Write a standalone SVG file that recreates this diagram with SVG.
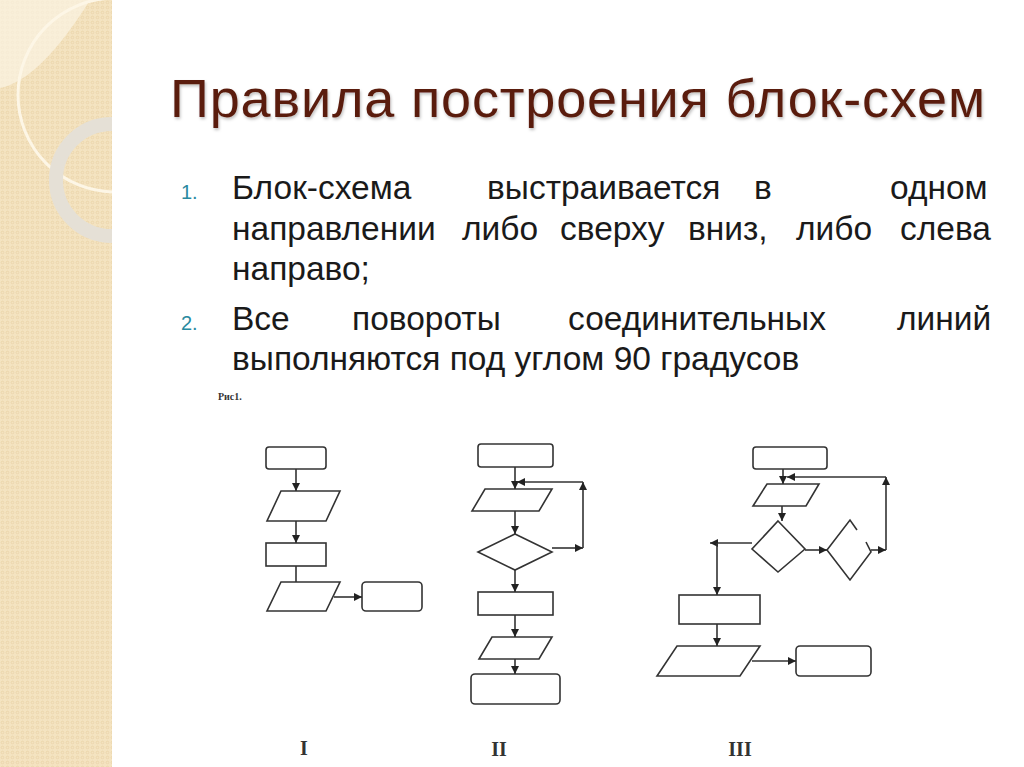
<svg xmlns="http://www.w3.org/2000/svg" width="1024" height="767" viewBox="0 0 1024 767">
<defs>
<marker id="ar" viewBox="0 0 10 10" refX="10" refY="5" markerWidth="8" markerHeight="8" markerUnits="userSpaceOnUse" orient="auto"><path d="M0,0 L10,5 L0,10 z" fill="#222"/></marker>
<pattern id="dots" width="5" height="5" patternUnits="userSpaceOnUse"><circle cx="2.5" cy="2.5" r="1.3" fill="none" stroke="#e6cfa0" stroke-width="0.6"/></pattern>
<filter id="sh"><feDropShadow dx="1" dy="2" stdDeviation="1.5" flood-color="#000" flood-opacity="0.25"/></filter>
<clipPath id="cl"><rect x="0" y="0" width="112" height="767"/></clipPath>
</defs>
<style>
.s{fill:#fff;stroke:#333;stroke-width:1.6}
.c{fill:none;stroke:#333;stroke-width:1.6}
.a{fill:none;stroke:#333;stroke-width:1.6;marker-end:url(#ar)}
.t{font-family:"Liberation Sans",Arial,sans-serif;font-size:33.5px;fill:#1a1a1a}
.n{font-family:"Liberation Sans",Arial,sans-serif;font-size:20px;fill:#2a8aa0}
.r{font-family:"Liberation Serif","Times New Roman",serif;font-weight:bold;fill:#333}
</style>
<rect width="1024" height="767" fill="#fff"/>
<g id="decor">
<rect x="0" y="0" width="112" height="767" fill="#f4e3c0"/>
<rect x="0" y="0" width="112" height="767" fill="url(#dots)"/>
<g clip-path="url(#cl)">
<path d="M0,88 Q40,80 90,0 L0,0 z" fill="#fbf3e4" opacity="0.7"/>
<circle cx="115" cy="95" r="97" fill="none" stroke="#fdf6e6" stroke-width="3"/>
<circle cx="112" cy="180" r="56" fill="none" stroke="#e5e0d6" stroke-width="14"/>
</g>
</g>
<g id="title"><text x="170" y="117" font-family="Liberation Sans,Arial,sans-serif" font-size="54" fill="#5a1e10" filter="url(#sh)" textLength="815">Правила построения блок-схем</text></g>
<g id="list">
<text class="n" x="181" y="199">1.</text>
<text class="t" y="199"><tspan x="232">Блок-схема</tspan><tspan x="487">выстраивается</tspan><tspan x="754">в</tspan><tspan x="890">одном</tspan></text>
<text class="t" y="240"><tspan x="232">направлении</tspan><tspan x="462">либо</tspan><tspan x="560">сверху</tspan><tspan x="688">вниз,</tspan><tspan x="796">либо</tspan><tspan x="900">слева</tspan></text>
<text class="t" x="232" y="280">направо;</text>
<text class="n" x="181" y="330">2.</text>
<text class="t" y="330"><tspan x="232">Все</tspan><tspan x="352">повороты</tspan><tspan x="568">соединительных</tspan><tspan x="897">линий</tspan></text>
<text class="t" x="232" y="370">выполняются под углом 90 градусов</text>
</g>
<text class="r" x="218" y="400" font-size="10">Рис1.</text>
<g id="nodes">
<g id="d1-r1"><rect class="s" x="266" y="447" width="60" height="22" rx="3"/></g>
<g id="d1-p1"><polygon class="s" points="281,491 340,491 326,521 267,521"/></g>
<g id="d1-r2"><rect class="s" x="266" y="543" width="60" height="23"/></g>
<g id="d1-p2"><polygon class="s" points="281,582 340,582 326,611 267,611"/></g>
<g id="d1-r3"><rect class="s" x="362" y="582" width="60" height="29" rx="4"/></g>
<g id="d2-r1"><rect class="s" x="478" y="444" width="75" height="23" rx="3"/></g>
<g id="d2-p1"><polygon class="s" points="485,489 552,489 539,511 472,511"/></g>
<g id="d2-d"><polygon class="s" points="515,534 552,552 515,570 478,552"/></g>
<g id="d2-r2"><rect class="s" x="478" y="592" width="75" height="23"/></g>
<g id="d2-p2"><polygon class="s" points="492,637 552,637 539,659 479,659"/></g>
<g id="d2-r3"><rect class="s" x="471" y="674" width="89" height="30" rx="4"/></g>
<g id="d3-r1"><rect class="s" x="753" y="447" width="74" height="22" rx="3"/></g>
<g id="d3-p1"><polygon class="s" points="767,484 819,484 806,506 753,506"/></g>
<g id="d3-d1"><polygon class="s" points="778,521 805,549 778,572 752,549"/></g>
<g id="d3-d2"><path class="c" d="M857,530 L850,520 L827,550 L850,580 L871,552 L866,542"/></g>
<g id="d3-r2"><rect class="s" x="679" y="595" width="81" height="29"/></g>
<g id="d3-p2"><polygon class="s" points="677,646 760,646 740,676 657,676"/></g>
<g id="d3-r3"><rect class="s" x="796" y="646" width="75" height="30" rx="4"/></g>
</g>
<g id="connectors">
<path class="a" d="M296,469 V491"/>
<path class="a" d="M296,521 V543"/>
<path class="c" d="M296,566 V582"/>
<path class="a" d="M334,597 H362"/>
<path class="a" d="M515,467 V489"/>
<path class="a" d="M515,511 V534"/>
<path class="a" d="M515,570 V592"/>
<path class="a" d="M515,615 V637"/>
<path class="a" d="M515,659 V674"/>
<path class="a" d="M552,548 H583"/>
<path class="a" d="M583,548 V482"/>
<path class="a" d="M583,482 H517"/>
<path class="a" d="M783,469 V484"/>
<path class="a" d="M886,477 H787"/>
<path class="a" d="M886,550 V477"/>
<path class="a" d="M782,506 V521"/>
<path class="a" d="M752,543 H710"/>
<path class="a" d="M717,543 V595"/>
<path class="a" d="M805,550 H827"/>
<path class="a" d="M871,550 H886"/>
<path class="a" d="M717,624 V646"/>
<path class="a" d="M752,661 H796"/>
</g>
<text class="r" x="304" y="755" font-size="20" text-anchor="middle">I</text>
<text class="r" x="499" y="756" font-size="20" text-anchor="middle">II</text>
<text class="r" x="740" y="756" font-size="20" text-anchor="middle">III</text>
</svg>
